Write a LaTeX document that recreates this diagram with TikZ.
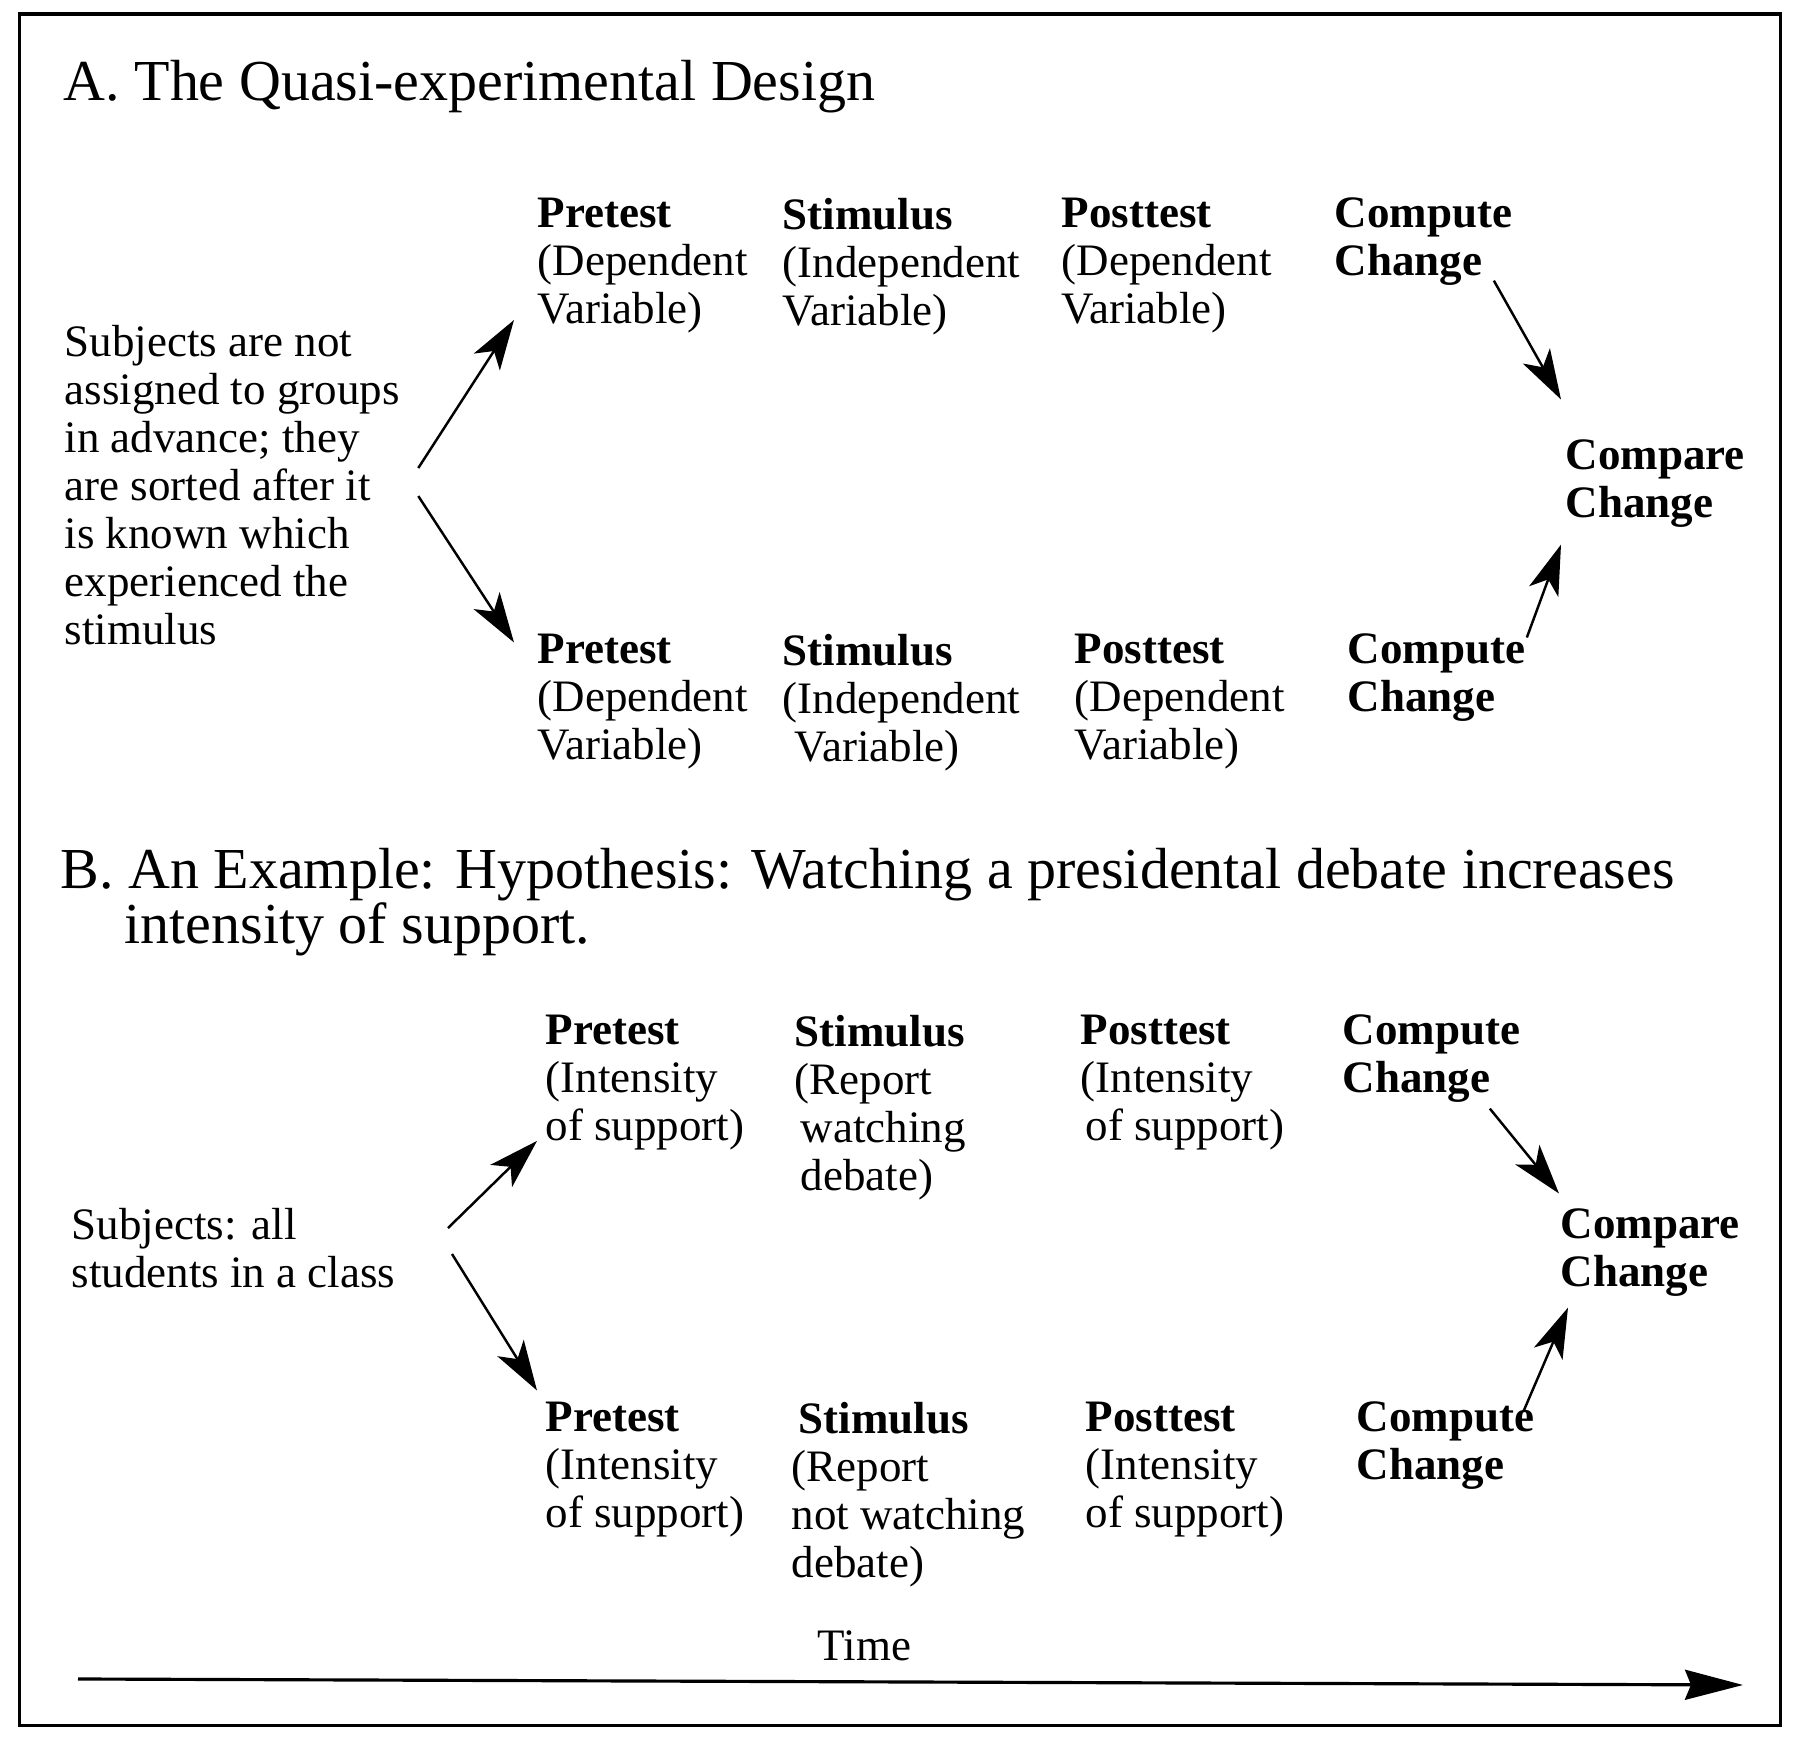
\documentclass[tikz,border=0pt]{standalone}
\usepackage{fontspec}
\setmainfont{Liberation Serif}
\usetikzlibrary{arrows.meta,positioning}
\newcommand{\txtfont}{\fontsize{12.8}{13.66}\selectfont}
\newcommand{\hdfont}{\fontsize{16.5}{15.7}\selectfont}
\tikzset{
  cell/.style={anchor=north west, inner sep=0pt, align=left, font=\txtfont},
  ttl/.style={anchor=north west, inner sep=0pt, align=left, font=\hdfont},
  arr/.style={-{Stealth[length=5mm, width=3.1mm, inset=1.3mm]}, line width=0.7pt},
  tarr/.style={-{Stealth[length=5.8mm, width=3mm, inset=0.6mm]}, line width=0.9pt},
  frm/.style={line width=1.1pt},
}

\begin{document}
\begin{tikzpicture}
  \useasboundingbox (0,0) rectangle (18,-17.5);
  \draw[frm] (0.195,-0.138) rectangle (17.805,-17.255);

  % part A
  \node[ttl] (ttlA) at (0.63,-0.60) {A. The Quasi-experimental Design};
  \node[cell] (subjA) at (0.64,-3.245) {Subjects are not\\assigned to groups\\in advance; they\\are sorted after it\\is known which\\experienced the\\stimulus};
  \node[cell] (preA1) at (5.37,-1.975) {\textbf{Pretest}\\(Dependent\\Variable)};
  \node[cell] (stiA1) at (7.82,-1.975) {\textbf{Stimulus}\\(Independent\\Variable)};
  \node[cell] (posA1) at (10.61,-1.975) {\textbf{Posttest}\\(Dependent\\Variable)};
  \node[cell] (comA1) at (13.34,-1.975) {\textbf{Compute}\\\textbf{Change}};
  \node[cell] (preA2) at (5.37,-6.335) {\textbf{Pretest}\\(Dependent\\Variable)};
  \node[cell] (stiA2) at (7.82,-6.335) {\textbf{Stimulus}\\(Independent\\\hspace{0.12cm}Variable)};
  \node[cell] (posA2) at (10.74,-6.335) {\textbf{Posttest}\\(Dependent\\Variable)};
  \node[cell] (comA2) at (13.47,-6.335) {\textbf{Compute}\\\textbf{Change}};
  \node[cell] (cmpA) at (15.65,-4.395) {\textbf{Compare}\\\textbf{Change}};

  \draw[arr] ([shift={(0.18,0.17)}]subjA.east) -- ([shift={(-0.23,0.14)}]preA1.south west);
  \draw[arr] ([shift={(0.18,-0.11)}]subjA.east) -- ([shift={(-0.23,-0.09)}]preA2.north west);
  \draw[arr] ([shift={(-0.19,0.06)}]comA1.south east) -- ([shift={(-0.04,0.40)}]cmpA.north west);
  \draw[arr] ([shift={(0.01,-0.04)}]comA2.north east) -- ([shift={(-0.04,-0.16)}]cmpA.south west);

  % part B
  \node[ttl] (ttlB) at (0.60,-8.475) {B. An Example: Hypothesis: Watching a presidental debate increases\\\hspace{0.64cm}intensity of support.};
  \node[cell] (subjB) at (0.71,-12.075) {Subjects: all\\students in a class};
  \node[cell] (preB1) at (5.45,-10.145) {\textbf{Pretest}\\(Intensity\\of support)};
  \node[cell] (stiB1) at (7.94,-10.145) {\textbf{Stimulus}\\(Report\\\hspace{0.06cm}watching\\\hspace{0.06cm}debate)};
  \node[cell] (posB1) at (10.80,-10.145) {\textbf{Posttest}\\(Intensity\\\hspace{0.05cm}of support)};
  \node[cell] (comB1) at (13.42,-10.145) {\textbf{Compute}\\\textbf{Change}};
  \node[cell] (preB2) at (5.45,-14.015) {\textbf{Pretest}\\(Intensity\\of support)};
  \node[cell] (stiB2) at (7.91,-14.015) {\hspace{0.07cm}\textbf{Stimulus}\\(Report\\not watching\\debate)};
  \node[cell] (posB2) at (10.85,-14.015) {\textbf{Posttest}\\(Intensity\\of support)};
  \node[cell] (comB2) at (13.56,-14.015) {\textbf{Compute}\\\textbf{Change}};
  \node[cell] (cmpB) at (15.60,-12.085) {\textbf{Compare}\\\textbf{Change}};

  \draw[arr] ([shift={(0.52,0.20)}]subjB.east) -- ([shift={(-0.08,0.10)}]preB1.south west);
  \draw[arr] ([shift={(0.56,-0.06)}]subjB.east) -- ([shift={(-0.08,0.11)}]preB2.north west);
  \draw[arr] ([shift={(-0.31,-0.05)}]comB1.south east) -- ([shift={(-0.01,0.15)}]cmpB.north west);
  \draw[arr] ([shift={(-0.11,-0.09)}]comB2.north east) -- ([shift={(0.08,-0.10)}]cmpB.south west);

  % time axis
  \node[cell] (time) at (8.17,-16.30) {Time};
  \coordinate (t0) at (0.78,-16.79);
  \coordinate (t1) at (17.43,-16.85);
  \draw[tarr] (t0) -- (t1);
\end{tikzpicture}
\end{document}
